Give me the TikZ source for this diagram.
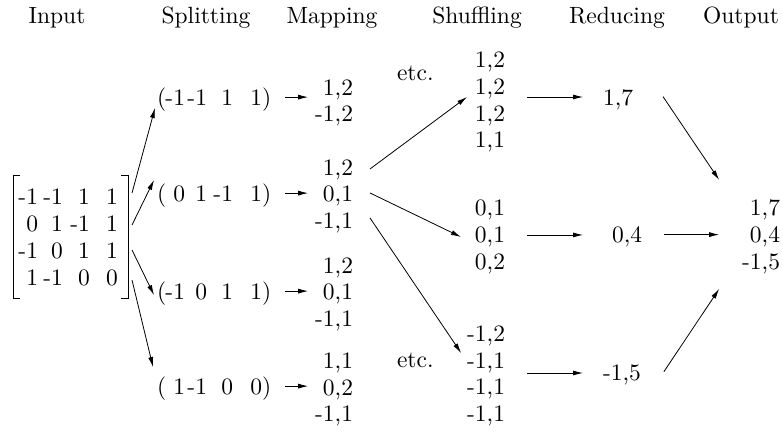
\documentclass[tikz,border=0pt]{standalone}
\usepackage{fontspec}
\setmainfont{lmroman10-regular.otf}
\usetikzlibrary{arrows.meta,calc}
\newcommand\mxrow[4]{\makebox[20pt][r]{#1}\makebox[25pt][r]{#2}\makebox[27pt][r]{#3}\makebox[28pt][r]{#4}}
\newcommand\tpl[4]{(\makebox[18.9pt][r]{#1}\makebox[22pt][r]{#2}\makebox[26pt][r]{#3}\makebox[29pt][r]{#4})}
\newcommand\stk[1]{\begin{tabular}[t]{@{}r@{}}#1\end{tabular}}
\tikzset{
  every node/.style={inner sep=0pt, outer sep=0pt, font=\fontsize{23.5}{26.7}\selectfont},
  arr/.style={-{Latex[length=10pt,width=5pt]}, line width=0.8pt},
  brk/.style={line width=0.8pt},
  hdr/.style={anchor=base},
  stack/.style={anchor=base east},
}
\begin{document}
\begin{tikzpicture}[x=1pt,y=-1pt]
\useasboundingbox (0,0) rectangle (783,431);
% headers
\node[hdr] (hIn)  at (57,23.5)  {Input};
\node[hdr] (hSp)  at (206,23.5) {Splitting};
\node[hdr] (hMa)  at (332,23.5) {Mapping};
\node[hdr] (hSh)  at (477,23.5) {Shuffling};
\node[hdr] (hRe)  at (617,23.5) {Reducing};
\node[hdr] (hOu)  at (741,23.5) {Output};
% input matrix
\node (M) at (68,239.7) {\begin{tabular}{@{}r@{}}\mxrow{-1}{-1}{1}{1}\\\mxrow{0}{1}{-1}{1}\\\mxrow{-1}{0}{1}{1}\\\mxrow{1}{-1}{0}{0}\end{tabular}};
\draw[brk] ($(M.center)+(-48,-64.7)$) -- ($(M.center)+(-55,-64.7)$) -- ($(M.center)+(-55,58.3)$) -- ($(M.center)+(-48,58.3)$);
\draw[brk] ($(M.center)+(53,-64.7)$) -- ($(M.center)+(60,-64.7)$) -- ($(M.center)+(60,58.3)$) -- ($(M.center)+(53,58.3)$);
% splitting
\node[anchor=base west] (S1) at (157,105) {\tpl{-1}{-1}{1}{1}};
\node[anchor=base west] (S2) at (157,201) {\tpl{0}{1}{-1}{1}};
\node[anchor=base west] (S3) at (157,299) {\tpl{-1}{0}{1}{1}};
\node[anchor=base west] (S4) at (157,394) {\tpl{1}{-1}{0}{0}};
% mapping
\node[stack] (G1) at (353,95)    {\stk{1,2\\-1,2}};
\node[stack] (G2) at (353,175)   {\stk{1,2\\0,1\\-1,1}};
\node[stack] (G3) at (353,273)   {\stk{1,2\\0,1\\-1,1}};
\node[stack] (G4) at (353,368.5) {\stk{1,1\\0,2\\-1,1}};
% shuffling
\node[stack] (H1) at (505,67.6)  {\stk{1,2\\1,2\\1,2\\1,1}};
\node[stack] (H2) at (505,215.6) {\stk{0,1\\0,1\\0,2}};
\node[stack] (H3) at (505,341.3) {\stk{-1,2\\-1,1\\-1,1\\-1,1}};
\node[anchor=base west] (E1) at (397,80)  {etc.};
\node[anchor=base west] (E2) at (397,367) {etc.};
% reducing
\node[anchor=base west] (R1) at (603,105.6) {1,7};
\node[anchor=base west] (R2) at (612,242.6) {0,4};
\node[anchor=base west] (R3) at (603,380.6) {-1,5};
% output
\node[stack] (O) at (780,215.6) {\stk{1,7\\0,4\\-1,5}};
% matrix -> splitting
\draw[arr] ($(M.east)+(14,-46.7)$) -- ($(S1.west)+(-2,8.9)$);
\draw[arr] ($(M.east)+(14,-14.7)$) -- ($(S2.west)+(-3,-15.1)$);
\draw[arr] ($(M.east)+(14,10.3)$)  -- ($(S3.west)+(-3,1.9)$);
\draw[arr] ($(M.east)+(14,40.3)$)  -- ($(S4.west)+(-4,-21.1)$);
% splitting -> mapping
\draw[arr] ($(S1.east)+(14,-2)$) -- ($(S1.east -| G1.west)+(-7,-2)$);
\draw[arr] ($(S2.east)+(14,-2)$) -- ($(S2.east -| G2.west)+(-7,-2)$);
\draw[arr] ($(S3.east)+(14,-2)$) -- ($(S3.east -| G3.west)+(-7,-2)$);
\draw[arr] ($(S4.east)+(14,-2)$) -- ($(S4.east -| G4.west)+(-7,-2)$);
% mapping -> shuffling
\draw[arr] ($(G2.east)+(17,-27.4)$) -- ($(H1.west)+(-8,-5.3)$);
\draw[arr] ($(G2.east)+(17,-3.4)$)  -- ($(H2.west)+(-14,0)$);
\draw[arr] ($(G2.east)+(17,21.6)$)  -- ($(H3.west)+(-6,-23)$);
% shuffling -> reducing
\draw[arr] ($(H1.east)+(22,-5.3)$) -- ($(H1.east -| R1.west)+(-20,-5.3)$);
\draw[arr] ($(H2.east)+(22,-2)$)   -- ($(H2.east -| R1.west)+(-20,-2)$);
\draw[arr] ($(H3.east)+(22,-3)$)   -- ($(H3.east -| R3.west)+(-20,-3)$);
% reducing -> output
\draw[arr] ($(R1.east)+(30,-3.3)$) -- ($(O.west)+(-23,-57)$);
\draw[arr] ($(R2.east)+(22,-2.3)$) -- ($(R2.east -| O.west)+(-23,-2.3)$);
\draw[arr] ($(R3.east)+(23,-3.3)$) -- ($(O.west)+(-23,52)$);
\end{tikzpicture}
\end{document}
